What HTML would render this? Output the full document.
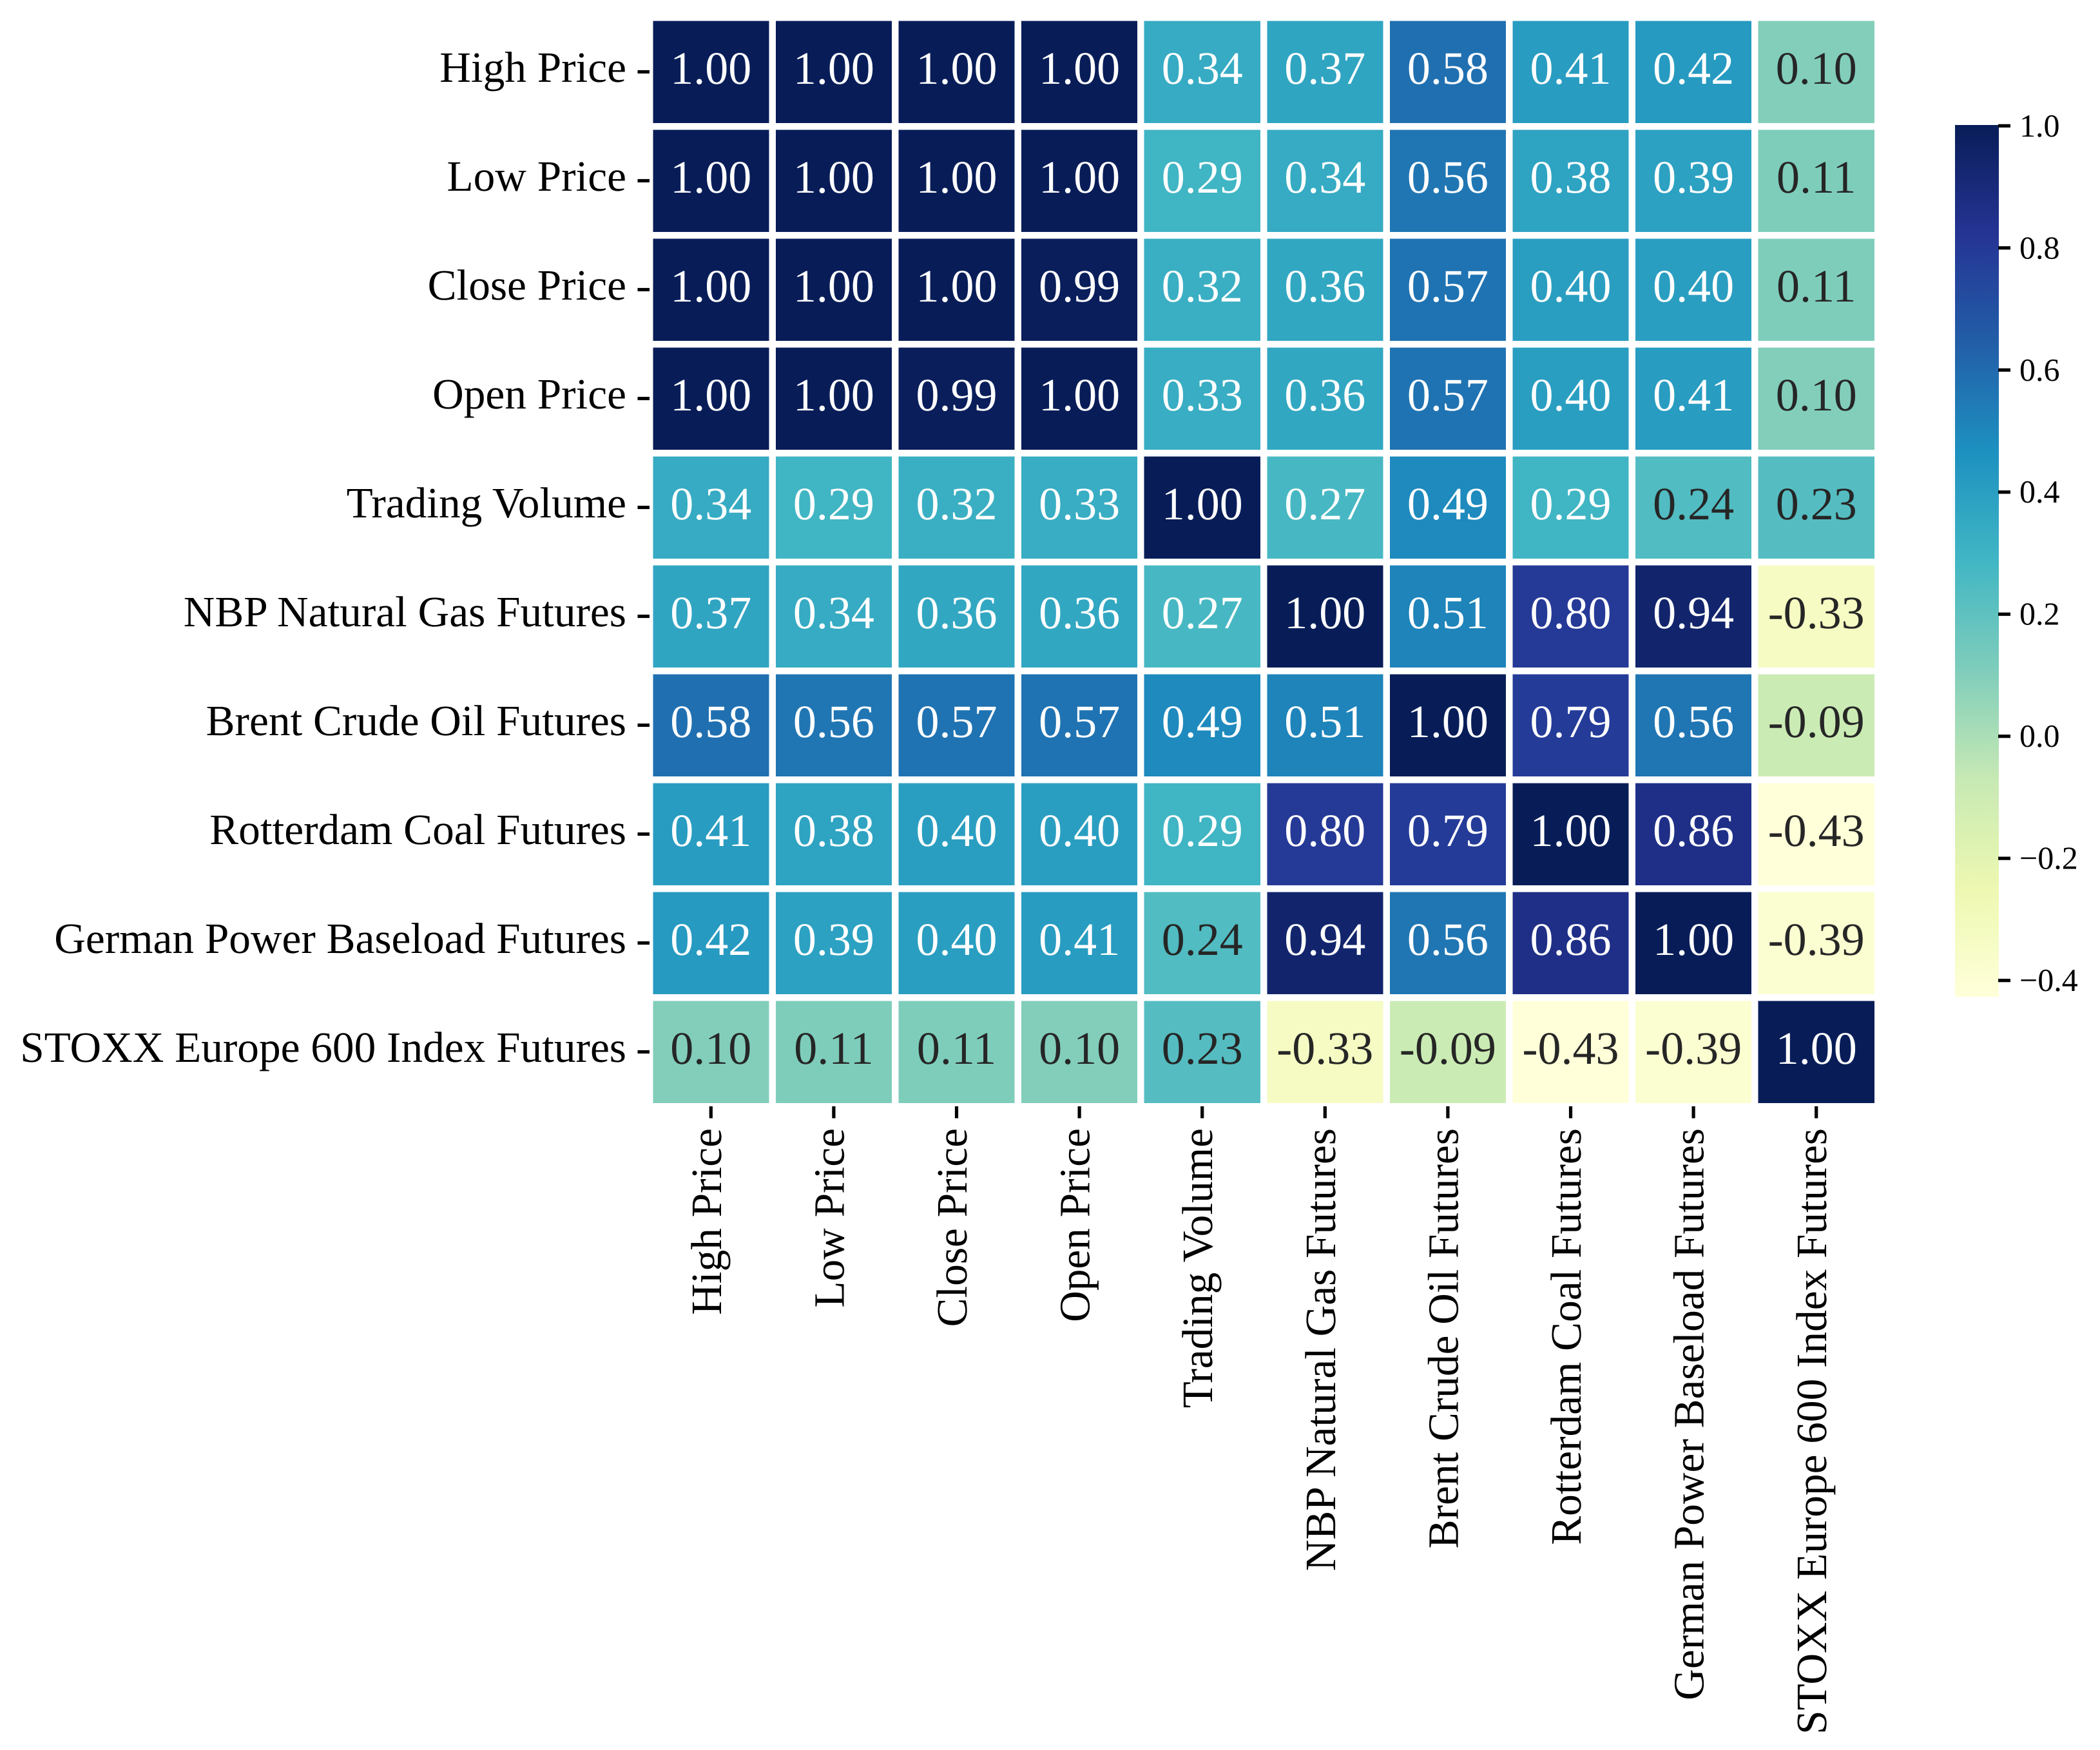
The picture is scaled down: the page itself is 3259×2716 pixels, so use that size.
<!DOCTYPE html>
<html lang="en">
<head>
<meta charset="utf-8">
<title>Correlation Heatmap</title>
<style>
html,body{margin:0;padding:0;background:#fff;}
svg{display:block;font-family:"Liberation Serif","Times New Roman",serif;text-rendering:geometricPrecision;}
</style>
</head>
<body>
<svg id="chart" xmlns="http://www.w3.org/2000/svg" width="3259" height="2716" viewBox="0 0 3259 2716">
<rect x="0" y="0" width="3259" height="2716" fill="#ffffff"/>
<defs><linearGradient id="cbar-gradient" x1="0" y1="1" x2="0" y2="0"></linearGradient></defs>
<g id="cells"></g>
<g id="annots"></g>
<g id="yaxis"></g>
<g id="xaxis"></g>
<g id="cbar"></g>
</svg>
<script>
const categories = ["High Price","Low Price","Close Price","Open Price","Trading Volume","NBP Natural Gas Futures","Brent Crude Oil Futures","Rotterdam Coal Futures","German Power Baseload Futures","STOXX Europe 600 Index Futures"];
const rowHigh = [1.00,1.00,1.00,1.00,0.34,0.37,0.58,0.41,0.42,0.10];
const rowLow = [1.00,1.00,1.00,1.00,0.29,0.34,0.56,0.38,0.39,0.11];
const rowClose = [1.00,1.00,1.00,0.99,0.32,0.36,0.57,0.40,0.40,0.11];
const rowOpen = [1.00,1.00,0.99,1.00,0.33,0.36,0.57,0.40,0.41,0.10];
const rowVolume = [0.34,0.29,0.32,0.33,1.00,0.27,0.49,0.29,0.24,0.23];
const rowNbp = [0.37,0.34,0.36,0.36,0.27,1.00,0.51,0.80,0.94,-0.33];
const rowBrent = [0.58,0.56,0.57,0.57,0.49,0.51,1.00,0.79,0.56,-0.09];
const rowCoal = [0.41,0.38,0.40,0.40,0.29,0.80,0.79,1.00,0.86,-0.43];
const rowPower = [0.42,0.39,0.40,0.41,0.24,0.94,0.56,0.86,1.00,-0.39];
const rowStoxx = [0.10,0.11,0.11,0.10,0.23,-0.33,-0.09,-0.43,-0.39,1.00];
const matrix = [rowHigh,rowLow,rowClose,rowOpen,rowVolume,rowNbp,rowBrent,rowCoal,rowPower,rowStoxx];
const colorbarTicks = [1.0,0.8,0.6,0.4,0.2,0.0,-0.2,-0.4];
const colorDomain = [-0.427,1.0];
const ylgnbu = ["#ffffd9","#edf8b1","#c7e9b4","#7fcdbb","#41b6c4","#1d91c0","#225ea8","#253494","#081d58"];

const NS = "http://www.w3.org/2000/svg";
const plot = {left:1008, top:27, width:1906, height:1690, gap:10.5};
const cb = {left:3034, right:3102, top:195.3, unit:947.4};
const cellW = () => plot.width / categories.length;
const cellH = () => plot.height / categories.length;
const xScale = i => plot.left + i * cellW();
const yScale = i => plot.top + i * cellH();
const cbY = v => cb.top + (colorDomain[1] - v) * cb.unit;

function hexRgb(h){return [1,3,5].map(k=>parseInt(h.substr(k,2),16));}
function cmap(v){
  let t=(v-colorDomain[0])/(colorDomain[1]-colorDomain[0]);
  t=Math.max(0,Math.min(1,t))*(ylgnbu.length-1);
  const i=Math.min(Math.floor(t),ylgnbu.length-2),f=t-i;
  const a=hexRgb(ylgnbu[i]),b=hexRgb(ylgnbu[i+1]);
  return a.map((c,k)=>Math.round(c+(b[k]-c)*f));
}
function luminance(rgb){
  const l=rgb.map(c=>{c/=255;return c<=0.03928?c/12.92:Math.pow((c+0.055)/1.055,2.4);});
  return 0.2126*l[0]+0.7152*l[1]+0.0722*l[2];
}
function mk(tag,attrs,parent,txt){
  const e=document.createElementNS(NS,tag);
  for(const k in attrs)e.setAttribute(k,attrs[k]);
  if(txt!==undefined)e.textContent=txt;
  parent.appendChild(e);
  return e;
}
const slug = s => s.toLowerCase().replace(/[^a-z0-9]+/g,'-');
const cellsG=document.getElementById('cells'),annotsG=document.getElementById('annots');
const yG=document.getElementById('yaxis'),xG=document.getElementById('xaxis'),cbG=document.getElementById('cbar');

matrix.forEach((row,r)=>{
  row.forEach((v,c)=>{
    const rgb=cmap(v);
    const rect=mk('rect',{x:xScale(c)+plot.gap/2,y:yScale(r)+plot.gap/2,width:cellW()-plot.gap,height:cellH()-plot.gap,fill:'rgb('+rgb.join(',')+')','shape-rendering':'crispEdges'},cellsG);
    
    
    const t=mk('text',{x:xScale(c)+cellW()/2,y:yScale(r)+cellH()/2+18.5,'text-anchor':'middle','font-size':72,fill:luminance(rgb)>0.408?'#262626':'#ffffff'},annotsG,v.toFixed(2));
    
    
  });
});

categories.forEach((name,i)=>{
  const cy=yScale(i)+cellH()/2;
  const yt=mk('rect',{x:plot.left-18.5,y:cy-2.6,width:18.5,height:5.2,fill:'#000'},yG);
  
  
  const yl=mk('text',{x:972,y:cy+15.5,'text-anchor':'end','font-size':67.3,fill:'#000'},yG,name);
  
  

  const cx=xScale(i)+cellW()/2;
  const xt=mk('rect',{x:cx-2.6,y:plot.top+plot.height,width:5.2,height:18.5,fill:'#000'},xG);
  
  
  const xl=mk('text',{transform:'translate('+(cx+15.5)+',1751) rotate(-90)','text-anchor':'end','font-size':67.3,fill:'#000'},xG,name);
  
  
});

const grad=document.getElementById('cbar-gradient');
ylgnbu.forEach((col,i)=>{
  mk('stop',{offset:(i/(ylgnbu.length-1)),'stop-color':col},grad);
});
const barTop=Math.round(cbY(colorDomain[1]))-1,barBottom=Math.round(cbY(colorDomain[0]));
const bar=mk('rect',{x:cb.left,y:barTop,width:cb.right-cb.left,height:barBottom-barTop,fill:'url(#cbar-gradient)','shape-rendering':'crispEdges'},cbG);


colorbarTicks.forEach(v=>{
  const y=cbY(v);
  const tk=mk('rect',{x:cb.right-1,y:y-2.6,width:19,height:5.2,fill:'#000'},cbG);
  
  
  const lb=mk('text',{x:3134,y:y+16.5,'font-size':50,fill:'#000'},cbG,v.toFixed(1).replace('-','\u2212'));
  
  
});
</script>
</body>
</html>
